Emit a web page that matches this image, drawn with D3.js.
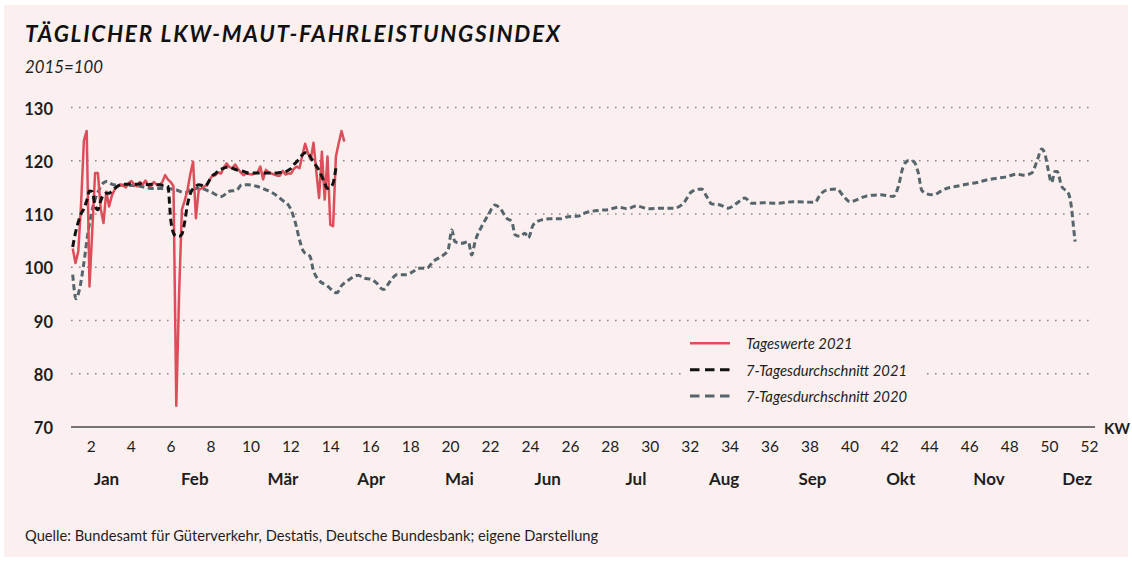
<!DOCTYPE html>
<html>
<head>
<meta charset="utf-8">
<script src="https://cdn.jsdelivr.net/npm/d3@7"></script>
<style>
  html, body { margin: 0; padding: 0; background: #ffffff; }
  svg { display: block; font-family: Lato, "Open Sans", sans-serif; }
</style>
</head>
<body>
<svg id="chart" width="1132" height="561"></svg>
<script>
// ---------- DATA ----------
const titleText = "TÄGLICHER LKW-MAUT-FAHRLEISTUNGSINDEX";
const subtitleText = "2015=100";
const sourceText = "Quelle: Bundesamt für Güterverkehr, Destatis, Deutsche Bundesbank; eigene Darstellung";

const yTicks = [70, 80, 90, 100, 110, 120, 130];
const kwLabels = [2,4,6,8,10,12,14,16,18,20,22,24,26,28,30,32,34,36,38,40,42,44,46,48,50,52];
const monthLabels = ["Jan","Feb","Mär","Apr","Mai","Jun","Jul","Aug","Sep","Okt","Nov","Dez"];

const seriesNames = ["Tageswerte 2021", "7-Tagesdurchschnitt 2021", "7-Tagesdurchschnitt 2020"];

// Daily values 2021 (day 0 = 1 January)
const tageswerte2021 = [
  103.5, 100.8, 103.0, 112.0, 123.8, 125.6, 96.4, 107.0, 117.7, 117.7,
  111.0, 108.3, 114.2, 111.4, 113.5, 114.6, 115.2, 115.5, 115.3, 115.0,
  115.8, 116.2, 115.5, 115.2, 116.0, 115.5, 116.3, 115.4, 115.2, 116.0,
  115.5, 115.4, 116.0, 117.3, 116.5, 116.0, 115.2, 74.0, 95.0, 110.8,
  112.5, 114.5, 117.5, 119.8, 109.2, 114.5, 114.8, 115.2, 115.4, 116.5,
  117.3, 117.3, 117.8, 117.6, 118.8, 119.5, 118.8, 118.6, 119.3, 118.5,
  117.8, 117.3, 117.6, 117.5, 117.4, 117.6, 117.8, 118.9, 116.5, 118.3,
  117.8, 117.6, 117.4, 117.2, 117.2, 118.1, 117.4, 117.6, 117.6, 118.5,
  118.9, 118.6, 121.0, 123.2, 121.5, 120.2, 123.4, 118.0, 113.0, 121.7,
  112.7, 120.8, 108.0, 107.7, 120.8, 123.3, 125.6, 123.6
];

// 7-day average 2021 (day 0 = 1 January)
const durchschnitt2021 = [
  103.8, 106.5, 108.5, 110.0, 111.0, 112.5, 114.3, 114.2, 111.5, 110.8,
  112.5, 113.6, 113.9, 113.9, 114.3, 114.8, 115.2, 115.5, 115.6, 115.6,
  115.6, 115.7, 115.6, 115.6, 115.7, 115.6, 115.6, 115.5, 115.6, 115.6,
  115.5, 115.5, 115.4, 115.4, 115.2, 109.0, 106.4, 105.8, 105.8, 106.2,
  108.5, 111.8, 113.8, 114.8, 115.2, 115.5, 115.4, 115.2, 115.6, 116.5,
  117.2, 117.6, 118.1, 118.4, 118.6, 118.8, 118.8, 118.6, 118.4, 118.2,
  118.1, 118.0, 117.8, 117.7, 117.7, 117.7, 117.7, 117.7, 117.7, 117.7,
  117.7, 117.7, 117.7, 117.7, 117.8, 117.8, 117.9, 118.2, 118.6, 119.3,
  119.8, 120.5, 121.1, 121.5, 121.5, 120.6, 119.8, 119.0, 118.2, 117.0,
  115.8, 114.8, 115.0, 115.8, 118.6
];

// 7-day average 2020: day of year and value
const tage2020 = [
  0, 1.2, 2.4, 3.8, 5.6, 7.4, 9.1, 10.9, 12.1, 14.5, 19.3, 24, 28.2, 32.4, 37.1, 40.1, 43.1, 45.5, 49,
  53.2, 55.6, 58.6, 60.4, 62.7, 65.7, 69.3, 71.6, 74.6, 77.6, 79.4, 81.2, 82.4, 84.8, 85.9, 87.7, 90.7,
  94.3, 96.1, 98.3, 102, 103.8, 106.8, 108.6, 110.9, 113.3, 115.7, 118.7, 121.6, 123.4, 126.4, 128.8,
  132.4, 134.1, 135.4, 136.5, 138.9, 141.3, 142.5, 143.7, 146.1, 148.4, 150.8, 152.6, 155, 156.8, 158,
  159.8, 161.5, 162.7, 164.5, 167.5, 170.5, 174, 177, 180.6, 183, 188.3, 191.3, 194.9, 197.9, 201.4,
  205.6, 209.8, 214.5, 218.1, 221.1, 224.6, 226.4, 228.2, 231.2, 234.1, 237.1, 240.1, 242.5, 246.6,
  251.4, 257.4, 265.1, 266.9, 269.3, 272.9, 275.2, 277.6, 280.6, 283.6, 288.3, 293.1, 294.9, 296.6,
  298.4, 300.2, 302, 303.2, 305, 307.4, 309.8, 312.1, 315.7, 319.3, 322.9, 326.4, 330, 333.6, 337.1,
  339.5, 342.5, 344.3, 346.1, 347.3, 348.4, 349.6, 350.8, 351.6, 353.2, 355.6, 356.8, 357.4, 358
];
const durchschnitt2020 = [
  98.6, 94.1, 95.8, 100.1, 107.0, 111.7, 114.2, 115.8, 116.1, 115.5, 115.4, 115.2, 114.8, 114.8, 114.5, 114.0, 114.8, 114.8, 114.2,
  113.3, 114.2, 114.5, 115.5, 115.5, 115.2, 114.5, 113.9, 112.7, 111.2, 108.6, 104.8, 103.0, 102.0, 99.5, 97.7, 96.6,
  95.2, 96.6, 97.5, 98.5, 98.0, 97.7, 97.0, 95.8, 97.3, 98.6, 98.6, 99.2, 99.8, 99.8, 101.1,
  102.3, 103.3, 107.0, 104.8, 104.5, 104.8, 102.3, 104.8, 107.7, 109.8, 111.7, 111.1, 109.2, 108.6, 106.1,
  105.8, 106.4, 105.5, 108.0, 108.9, 109.1, 109.1, 109.5, 109.6, 110.2, 110.7, 110.8, 111.3, 111.0, 111.5,
  111.0, 111.1, 111.1, 112.0, 114.2, 114.7, 113.3, 111.9, 111.7, 111.1, 112.0, 113.0, 112.0, 112.1,
  112.0, 112.3, 112.2, 113.6, 114.5, 114.7, 113.4, 112.3, 112.8, 113.4, 113.6, 113.3, 115.2, 118.9,
  120.0, 119.9, 117.7, 114.5, 113.8, 113.6, 114.2, 114.8, 115.2, 115.6, 115.9, 116.4, 116.7, 117.0, 117.5,
  117.3, 117.7, 119.8, 122.2, 121.1, 118.3, 115.9, 118.0, 118.0, 115.2, 113.9, 110.8, 107.7, 104.8
];

// ---------- LAYOUT ----------
const W = 1132, H = 561;
const bg = "#fbf0ef";
const cRed = "#dd4e5a", cBlack = "#111111", cGray = "#56646c";
const textCol = "#1e1e1e";

const svg = d3.select("#chart");

svg.append("rect").attr("x", 4).attr("y", 5).attr("width", 1124).attr("height", 552).attr("fill", bg);

const x = d3.scaleLinear().domain([0, 365]).range([72.7, 72.7 + 365 * 2.8]);
const y = d3.scaleLinear().domain([70, 130]).range([427, 107.5]);
const xKW = d3.scalePoint().domain(kwLabels).range([90.7, 1089]);
const xMonth = d3.scalePoint().domain(monthLabels).range([106, 1076.7]);

// Title
svg.append("text").attr("x", 25).attr("y", 41.5)
  .attr("font-family", "Lato, 'Open Sans', sans-serif")
  .attr("font-size", 22.5).attr("font-weight", 700).attr("font-style", "italic")
  .attr("fill", "#111").attr("textLength", 535).attr("lengthAdjust", "spacing")
  .text(titleText);
svg.append("text").attr("x", 25).attr("y", 72.5)
  .attr("font-size", 16.8).attr("font-style", "italic").attr("fill", textCol)
  .text(subtitleText);

// Gridlines (dotted)
const grid = svg.append("g");
grid.selectAll("line").data(yTicks.filter(d => d > 70)).join("line")
  .attr("x1", 71).attr("x2", 1091)
  .attr("y1", d => y(d)).attr("y2", d => y(d))
  .attr("stroke", "#8a8a8a").attr("stroke-width", 1.6)
  .attr("stroke-dasharray", "1.6,6.4");

// Y labels
svg.append("g").selectAll("text").data(yTicks).join("text")
  .attr("x", 53).attr("y", d => y(d) + 1)
  .attr("text-anchor", "end").attr("dominant-baseline", "central")
  .attr("font-size", 16.5).attr("font-weight", 700).attr("fill", textCol)
  .text(d => d);

// Baseline axis
svg.append("line").attr("x1", 71).attr("x2", 1095).attr("y1", y(70)).attr("y2", y(70))
  .attr("stroke", "#4a4a4a").attr("stroke-width", 1.5);
svg.append("text").attr("x", 1104).attr("y", y(70) + 1)
  .attr("dominant-baseline", "central")
  .attr("font-size", 15).attr("font-weight", 700).attr("fill", textCol).text("KW");

// KW axis labels
const kwAxis = d3.axisBottom(xKW).tickSize(0).tickPadding(0);
const gKW = svg.append("g").attr("transform", "translate(0,441)").call(kwAxis);
gKW.select(".domain").remove();
gKW.selectAll("text").attr("font-size", 15.5).attr("font-family", "Lato, 'Open Sans', sans-serif")
  .attr("fill", textCol).attr("dy", "0.72em");

// Month labels
const monthAxis = d3.axisBottom(xMonth).tickSize(0).tickPadding(0);
const gM = svg.append("g").attr("transform", "translate(0,473)").call(monthAxis);
gM.select(".domain").remove();
gM.selectAll("text").attr("font-size", 17).attr("font-weight", 700)
  .attr("font-family", "Lato, 'Open Sans', sans-serif").attr("fill", textCol).attr("dy", "0.72em");

// Legend background (masks gridline)
svg.append("rect").attr("x", 682).attr("y", 331).attr("width", 242).attr("height", 78).attr("fill", bg);

// Lines
const line2020 = d3.line().x((d, i) => x(tage2020[i])).y(d => y(d)).curve(d3.curveMonotoneX);
const lineDaily = d3.line().x((d, i) => x(i)).y(d => y(d));
const lineAvg = d3.line().x((d, i) => x(i)).y(d => y(d)).curve(d3.curveMonotoneX);

svg.append("path").datum(durchschnitt2020).attr("d", line2020)
  .attr("fill", "none").attr("stroke", cGray).attr("stroke-width", 3)
  .attr("stroke-dasharray", "6,3.5");
svg.append("path").datum(tageswerte2021).attr("d", lineDaily)
  .attr("fill", "none").attr("stroke", cRed).attr("stroke-width", 2.5)
  .attr("stroke-linejoin", "round");
svg.append("path").datum(durchschnitt2021).attr("d", lineAvg)
  .attr("fill", "none").attr("stroke", cBlack).attr("stroke-width", 3)
  .attr("stroke-dasharray", "7,4");

// Legend
const legendRows = [
  { name: seriesNames[0], color: cRed, dash: null, w: 2.5 },
  { name: seriesNames[1], color: cBlack, dash: "9.5,5.5", w: 3 },
  { name: seriesNames[2], color: cGray, dash: "9.5,5.5", w: 3 }
];
const lg = svg.append("g");
legendRows.forEach((r, i) => {
  const yy = 343.3 + i * 26.4;
  lg.append("line").attr("x1", 690).attr("x2", 730).attr("y1", yy).attr("y2", yy)
    .attr("stroke", r.color).attr("stroke-width", r.w)
    .attr("stroke-dasharray", r.dash);
  lg.append("text").attr("x", 746).attr("y", yy).attr("dominant-baseline", "central")
    .attr("font-size", 14.8).attr("font-style", "italic").attr("fill", textCol).text(r.name);
});

// Source
svg.append("text").attr("x", 25).attr("y", 541)
  .attr("font-size", 14.7).attr("fill", textCol).text(sourceText);
</script>
</body>
</html>
